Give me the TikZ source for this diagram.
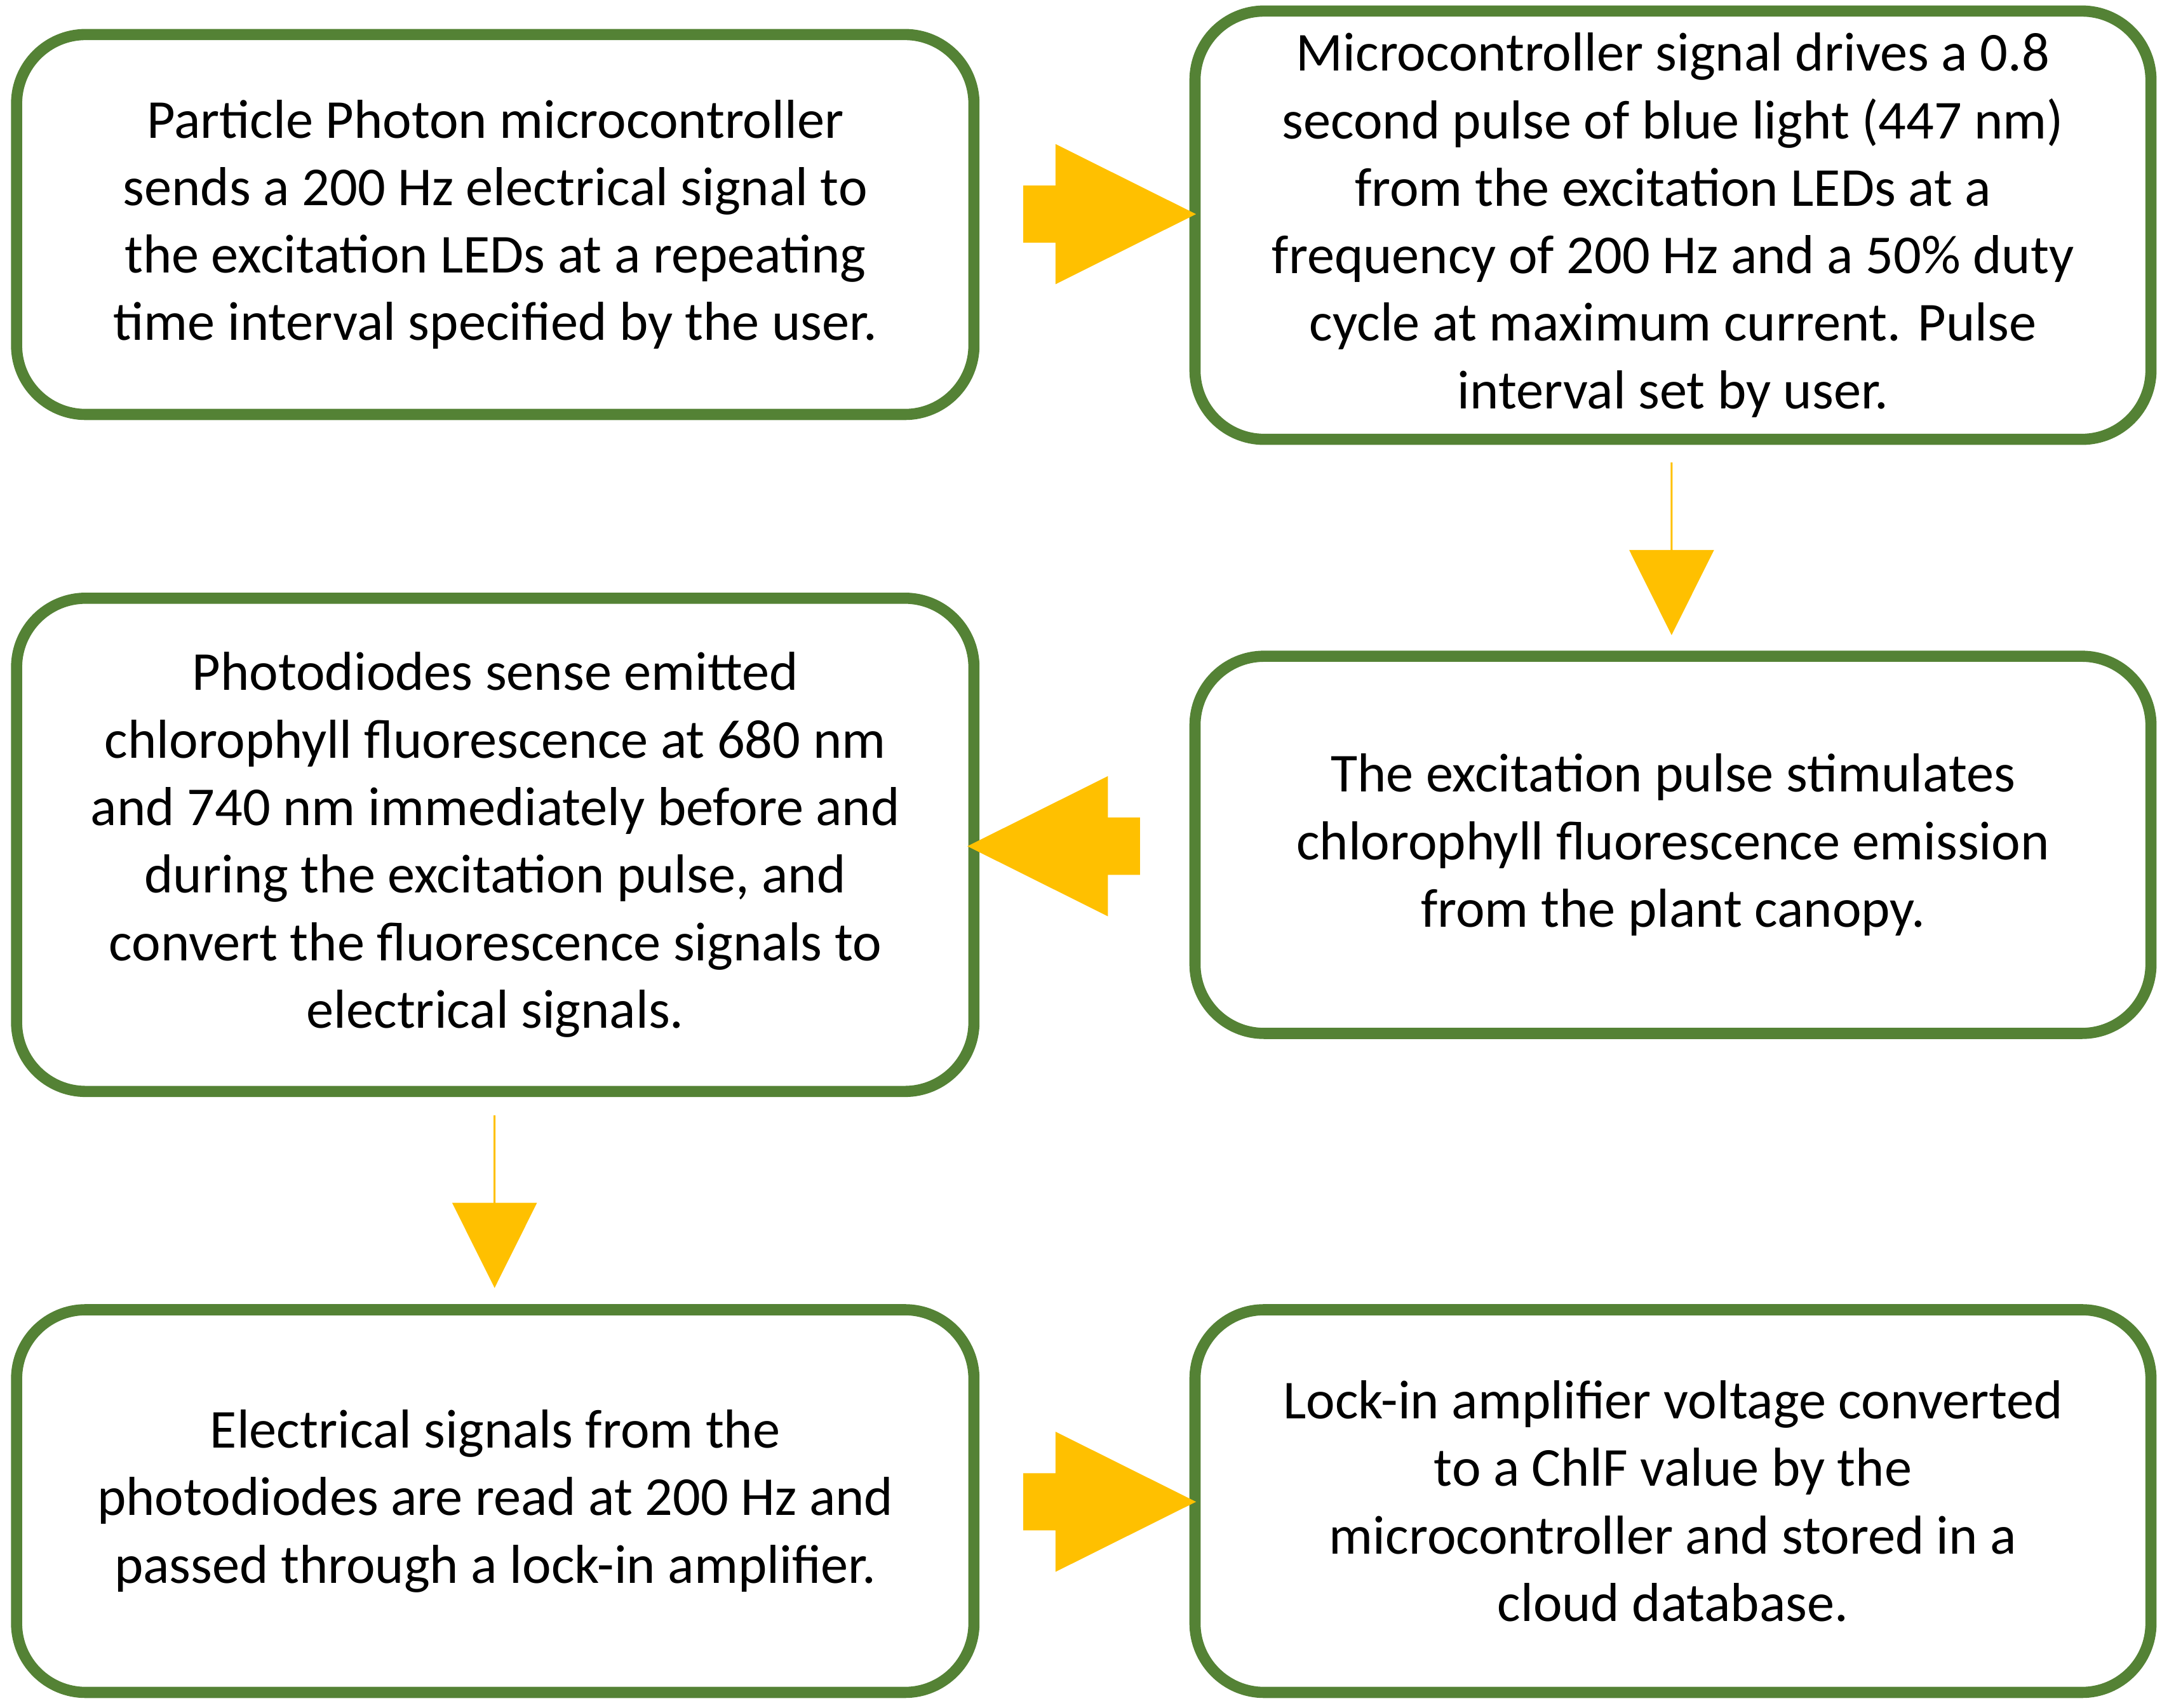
\documentclass[tikz,border=0pt]{standalone}
\usepackage{fontspec}
\setmainfont{Carlito}
\usetikzlibrary{shapes.arrows, positioning}

\definecolor{boxgreen}{HTML}{548235}
\definecolor{arrowyellow}{HTML}{FFC000}

\begin{document}
\begin{tikzpicture}[x=1cm,y=1cm,
    step box/.style={draw=boxgreen, line width=2.3pt, rounded corners=0.5cm, fill=white,
                     align=center, font=\fontsize{11.3}{13.9}\selectfont, inner sep=0pt},
    flow arrow/.style={single arrow, fill=arrowyellow, draw=none,
                       single arrow head extend=0.3cm, single arrow head indent=0pt,
                       single arrow tip angle=53, minimum height=1.25cm,
                       inner xsep=0pt, inner ysep=0.2cm}]
    \useasboundingbox (0,0) rectangle (15.65,-12.36);

    % boxes
    \node[step box, minimum width=6.93cm, minimum height=2.75cm] (photon) at (3.585,-1.625)
        {Particle Photon microcontroller\\ sends a 200 Hz electrical signal to\\ the excitation LEDs at a repeating\\ time interval specified by the user.};
    \node[step box, minimum width=6.92cm, minimum height=3.10cm] (pulse) at (12.11,-1.63)
        {Microcontroller signal drives a 0.8\\ second pulse of blue light (447 nm)\\ from the excitation LEDs at a\\ frequency of 200 Hz and a 50\% duty\\ cycle at maximum current. Pulse\\ interval set by user.};
    \node[step box, minimum width=6.92cm, minimum height=2.73cm] (emission) at (12.11,-6.115)
        {The excitation pulse stimulates\\ chlorophyll fluorescence emission\\ from the plant canopy.};
    \node[step box, minimum width=6.93cm, minimum height=3.57cm] (sense) at (3.585,-6.115)
        {Photodiodes sense emitted\\ chlorophyll fluorescence at 680 nm\\ and 740 nm immediately before and\\ during the excitation pulse, and\\ convert the fluorescence signals to\\ electrical signals.};
    \node[step box, minimum width=6.93cm, minimum height=2.77cm] (lockin) at (3.585,-10.865)
        {Electrical signals from the\\ photodiodes are read at 200 Hz and\\ passed through a lock-in amplifier.};
    \node[step box, minimum width=6.92cm, minimum height=2.77cm] (cloud) at (12.11,-10.865)
        {Lock-in amplifier voltage converted\\ to a ChlF value by the\\ microcontroller and stored in a\\ cloud database.};

    % arrows between steps
    \node[flow arrow] (a1) at (7.825,-1.55) {};
    \node[flow arrow, shape border rotate=270] (a2) at (12.10,-3.965) {};
    \node[flow arrow, shape border rotate=180] (a3) at (7.835,-6.125) {};
    \node[flow arrow, shape border rotate=270] (a4) at (3.58,-8.69) {};
    \node[flow arrow] (a5) at (7.825,-10.87) {};
\end{tikzpicture}
\end{document}
